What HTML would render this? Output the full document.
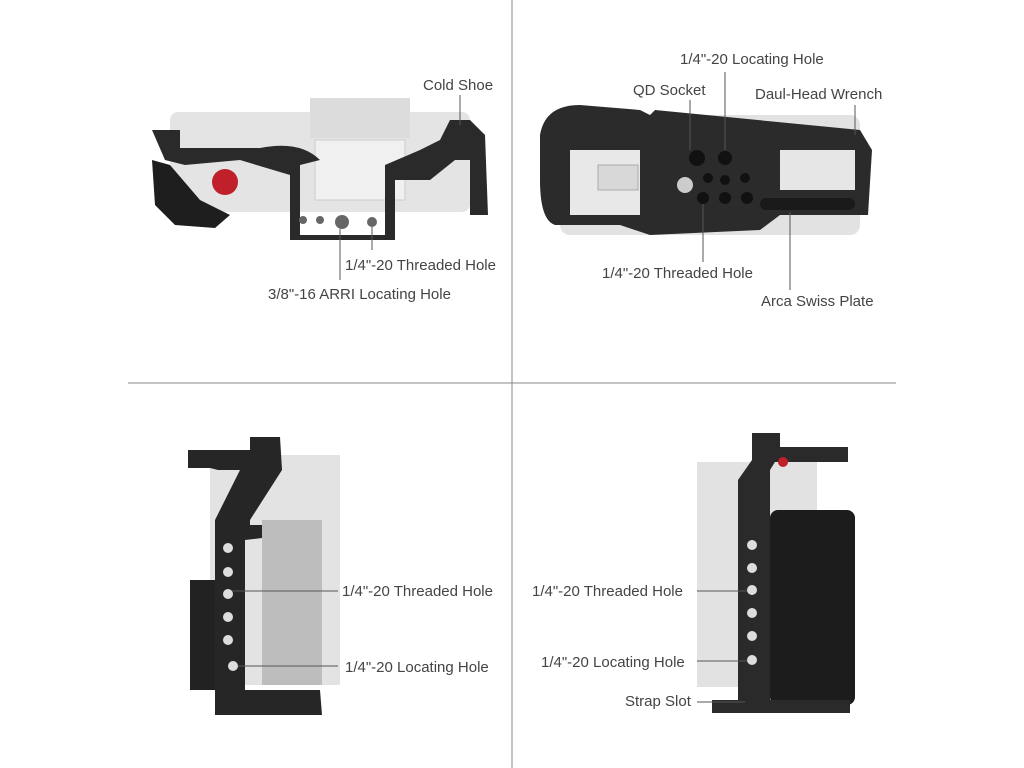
<!DOCTYPE html>
<html><head><meta charset="utf-8"><style>
html,body{margin:0;padding:0;background:#fff;}
svg{display:block}
text{font-family:"Liberation Sans",sans-serif;font-size:15px;fill:#444;}
</style></head><body>
<svg width="1024" height="768" viewBox="0 0 1024 768">
<rect width="1024" height="768" fill="#fff"/>
<line x1="512" y1="0" x2="512" y2="768" stroke="#888" stroke-width="1"/>
<line x1="128" y1="383" x2="896" y2="383" stroke="#888" stroke-width="1"/>

<!-- Q1 top view -->
<rect x="170" y="112" width="300" height="100" rx="8" fill="#e4e4e4"/>
<rect x="310" y="98" width="100" height="40" fill="#dcdcdc"/>
<rect x="315" y="140" width="90" height="60" fill="#f0f0f0" stroke="#ccc"/>
<circle cx="225" cy="182" r="13" fill="#c0202a"/>
<path d="M152 130 L180 130 L180 148 L260 148 Q300 140 320 160 L300 165 L300 235 L385 235 L385 165 L420 150 L440 140 L450 120 L470 120 L485 135 L488 215 L470 215 L470 160 L455 160 L430 180 L395 180 L395 240 L290 240 L290 175 L240 160 L185 165 L165 160 Z" fill="#2a2a2a"/>
<path d="M152 160 L170 165 L200 200 L230 215 L215 228 L175 225 L155 205 Z" fill="#1e1e1e"/>
<circle cx="342" cy="222" r="7" fill="#666"/><circle cx="320" cy="220" r="4" fill="#666"/><circle cx="372" cy="222" r="5" fill="#666"/><circle cx="303" cy="220" r="4" fill="#666"/>
<line x1="460" y1="95" x2="460" y2="125" stroke="#555"/>
<text x="423" y="90">Cold Shoe</text>
<line x1="372" y1="227" x2="372" y2="250" stroke="#555"/>
<line x1="340" y1="229" x2="340" y2="280" stroke="#555"/>
<text x="345" y="270">1/4"-20 Threaded Hole</text>
<text x="268" y="299">3/8"-16 ARRI Locating Hole</text>

<!-- Q2 bottom view -->
<rect x="560" y="115" width="300" height="120" rx="10" fill="#e2e2e2"/>
<path d="M540 135 Q545 105 580 105 L640 110 L650 115 L655 110 L860 130 L872 150 L868 215 L780 215 L760 230 L650 235 L620 225 L555 225 Q540 220 540 180 Z" fill="#2b2b2b"/>
<rect x="570" y="150" width="70" height="65" fill="#e8e8e8"/>
<rect x="598" y="165" width="40" height="25" fill="#d8d8d8" stroke="#aaa"/>
<rect x="780" y="150" width="75" height="40" fill="#e6e6e6"/>
<circle cx="697" cy="158" r="8" fill="#111"/><circle cx="725" cy="158" r="7" fill="#111"/>
<circle cx="685" cy="185" r="8" fill="#ccc"/>
<circle cx="703" cy="198" r="6" fill="#111"/><circle cx="725" cy="198" r="6" fill="#111"/><circle cx="747" cy="198" r="6" fill="#111"/>
<circle cx="725" cy="180" r="5" fill="#111"/><circle cx="745" cy="178" r="5" fill="#111"/><circle cx="708" cy="178" r="5" fill="#111"/>
<rect x="760" y="198" width="95" height="12" rx="6" fill="#1a1a1a"/>
<line x1="690" y1="100" x2="690" y2="150" stroke="#555"/>
<line x1="725" y1="72" x2="725" y2="150" stroke="#555"/>
<line x1="855" y1="105" x2="855" y2="135" stroke="#555"/>
<line x1="703" y1="204" x2="703" y2="262" stroke="#555"/>
<line x1="790" y1="212" x2="790" y2="290" stroke="#555"/>
<text x="680" y="64">1/4"-20 Locating Hole</text>
<text x="633" y="95">QD  Socket</text>
<text x="755" y="99">Daul-Head Wrench</text>
<text x="602" y="278">1/4"-20 Threaded Hole</text>
<text x="761" y="306">Arca Swiss Plate</text>

<!-- Q3 side view -->
<rect x="210" y="455" width="130" height="230" fill="#e3e3e3"/>
<rect x="262" y="520" width="60" height="165" fill="#bdbdbd"/>
<rect x="190" y="580" width="30" height="110" fill="#222"/>
<path d="M188 450 L250 450 L250 437 L280 437 L282 470 L250 520 L250 525 L262 525 L262 538 L245 540 L245 690 L320 690 L322 715 L215 715 L215 520 L240 470 L218 470 L210 468 L188 468 Z" fill="#262626"/>
<g fill="#ddd"><circle cx="228" cy="548" r="5"/><circle cx="228" cy="572" r="5"/><circle cx="228" cy="594" r="5"/><circle cx="228" cy="617" r="5"/><circle cx="228" cy="640" r="5"/><circle cx="233" cy="666" r="5"/></g>
<line x1="232" y1="591" x2="338" y2="591" stroke="#555"/>
<line x1="238" y1="666" x2="338" y2="666" stroke="#555"/>
<text x="342" y="596">1/4"-20 Threaded Hole</text>
<text x="345" y="672">1/4"-20 Locating Hole</text>

<!-- Q4 side view -->
<rect x="697" y="462" width="120" height="225" fill="#e2e2e2"/>
<rect x="770" y="510" width="85" height="195" rx="8" fill="#1c1c1c"/>
<path d="M752 433 L780 433 L780 447 L848 447 L848 462 L775 462 L770 470 L770 700 L850 700 L850 713 L712 713 L712 700 L738 700 L738 480 L752 460 Z" fill="#2a2a2a"/>
<circle cx="783" cy="462" r="5" fill="#c0202a"/>
<g fill="#ddd"><circle cx="752" cy="545" r="5"/><circle cx="752" cy="568" r="5"/><circle cx="752" cy="590" r="5"/><circle cx="752" cy="613" r="5"/><circle cx="752" cy="636" r="5"/><circle cx="752" cy="660" r="5"/></g>
<line x1="697" y1="591" x2="747" y2="591" stroke="#555"/>
<line x1="697" y1="661" x2="747" y2="661" stroke="#555"/>
<line x1="697" y1="702" x2="745" y2="702" stroke="#555"/>
<text x="532" y="596">1/4"-20 Threaded Hole</text>
<text x="541" y="667">1/4"-20 Locating Hole</text>
<text x="625" y="706">Strap Slot</text>
</svg>
</body></html>
